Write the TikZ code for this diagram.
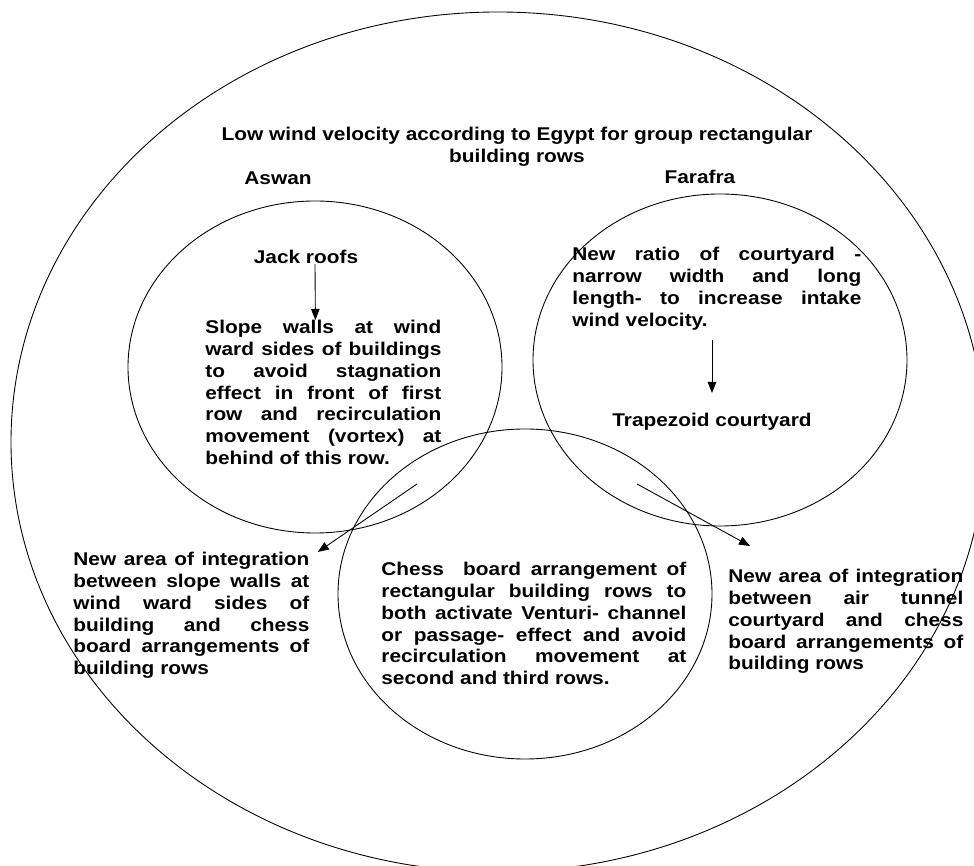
\documentclass[tikz,border=0pt]{standalone}
\usepackage{fontspec}
\setmainfont{Liberation Sans}
\usepackage{tikz}
\usetikzlibrary{arrows.meta, positioning}
\hyphenpenalty=10000

\begin{document}
\begin{tikzpicture}[font=\fontsize{10.5pt}{12.4pt}\selectfont\bfseries,
		txt/.style={inner sep=0pt, xscale=1.13},
		para/.style={txt, align=justify, anchor=north west},
		ring/.style={line width=0.5pt},
		arr/.style={line width=0.5pt, -{Triangle[length=2.2mm, width=1.7mm]}}]
		\useasboundingbox (0cm, 0cm) rectangle (19.48cm, 17.32cm);
		% circles
		\draw [ring] (9.96cm, 8.48cm) ellipse (9.74cm and 8.6cm);
		\draw [ring] (6.3cm, 9.98cm) ellipse (3.74cm and 3.32cm);
		\draw [ring] (14.4cm, 10.12cm) ellipse (3.74cm and 3.32cm);
		\draw [ring] (10.5cm, 5.44cm) ellipse (3.74cm and 3.3cm);
		% titles
		\node [txt, anchor=north, align=center] (title) at (10.34cm, 14.78cm) {Low wind velocity according to Egypt for group rectangular\\building rows};
		\node [txt, anchor=north] (aswan) at (5.56cm, 13.9cm) {Aswan};
		\node [txt, anchor=north] (farafra) at (14cm, 13.92cm) {Farafra};
		% Aswan
		\node [txt, anchor=north] (jack) at (6.12cm, 12.32cm) {Jack roofs};
		\node [para, text width=4.177cm] (slope) at (4.1cm, 10.92cm) {Slope walls at wind\linebreak ward sides of buildings\linebreak to avoid stagnation\linebreak effect in front of first\linebreak row and recirculation\linebreak movement (vortex) at\linebreak behind of this row.};
		% Farafra
		\node [para, text width=5.115cm] (ratio) at (11.44cm, 12.38cm) {New ratio of courtyard -\linebreak narrow width and long\linebreak length- to increase intake\linebreak wind velocity.};
		\node [txt, anchor=north] (trap) at (14.24cm, 9.06cm) {Trapezoid courtyard};
		% common
		\node [para, text width=5.398cm] (chess) at (7.62cm, 6.08cm) {Chess\ \ board arrangement of\linebreak rectangular building rows to\linebreak both activate Venturi- channel\linebreak or passage- effect and avoid\linebreak recirculation movement at\linebreak second and third rows.};
		\node [para, text width=4.177cm] (leftint) at (1.46cm, 6.28cm) {New area of integration\linebreak between slope walls at\linebreak wind ward sides of\linebreak building and chess\linebreak board arrangements of\linebreak building rows};
		\node [para, text width=4.159cm] (rightint) at (14.56cm, 5.94cm) {New area of integration\linebreak between air tunnel\linebreak courtyard and chess\linebreak board arrangements of\linebreak building rows};
		\coordinate (ltail) at (8.34cm, 7.64cm);
		\coordinate (rtail) at (12.74cm, 7.64cm);
		% arrows
		\draw [arr] ([xshift=0.18cm]jack.south) -- ([xshift=-0.16cm]slope.north);
		\draw [arr] ([yshift=-0.2cm]ratio.south -| trap.north) -- ([yshift=0.4cm]trap.north);
		\draw [arr] (ltail) -- ([xshift=0.16cm]leftint.north east);
		\draw [arr] (rtail) -- ([shift={(0.44cm, 0.46cm)}]rightint.north west);
	\end{tikzpicture}
\end{document}
